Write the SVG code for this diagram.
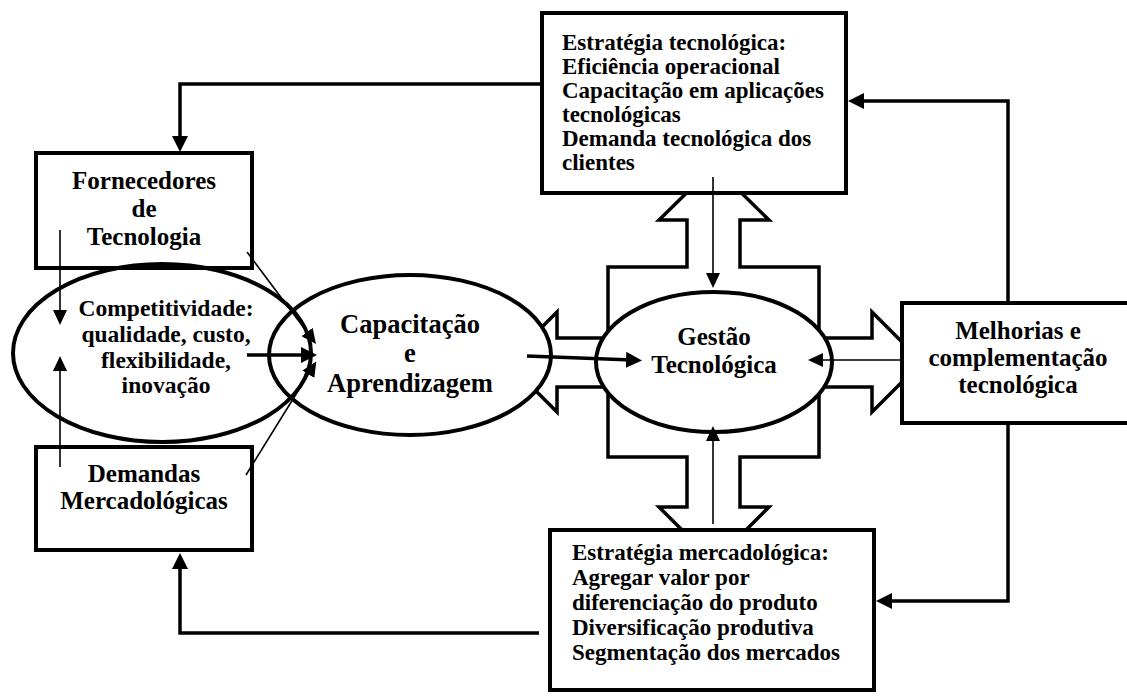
<svg xmlns="http://www.w3.org/2000/svg" width="1127" height="697" viewBox="0 0 1127 697">
  <style>
    .box { fill: #fff; stroke: #000; stroke-width: 4; }
    .oval { stroke: #000; stroke-width: 4; }
    .cross { fill: #fff; stroke: #000; stroke-width: 3.5; stroke-linejoin: miter; }
    .t { font-family: "Liberation Serif", "Times New Roman", serif; font-weight: bold; fill: #000; }
    .c { text-anchor: middle; }
    .big { font-size: 25px; }
    .mid { font-size: 23.5px; }
    .lst { font-size: 23px; }
    .cap { font-size: 26.5px; }
    .thick { fill: none; stroke: #000; stroke-width: 3.5; marker-end: url(#headL); }
    .thin { fill: none; stroke: #000; stroke-width: 1.6; marker-end: url(#headS); }
  </style>
  <defs>
    <marker id="headL" markerUnits="userSpaceOnUse" markerWidth="17" markerHeight="16" refX="6" refY="8" orient="auto">
      <path d="M0,0 L16,8 L0,16 z" fill="#000"/>
    </marker>
    <marker id="headS" markerUnits="userSpaceOnUse" markerWidth="16" markerHeight="14" refX="5" refY="7" orient="auto">
      <path d="M0,0 L15,7 L0,14 z" fill="#000"/>
    </marker>
  </defs>

  <rect x="0" y="0" width="1127" height="697" fill="#fff"/>

  <!-- four-way block arrow behind the central oval -->
  <g id="quad-arrow">
    <polygon class="cross" points="714,166 769,220 740,220 740,267 819,267 819,338 872,338 872,312 922,362 872,412 872,387 819,387 819,457 740,457 740,507 769,507 714,562 659,507 687,507 687,457 608,457 608,387 557,387 557,412 507,362 557,312 557,338 608,338 608,267 687,267 687,220 659,220"/>
  </g>

  <g id="fornecedores">
    <rect class="box" x="36" y="153" width="216" height="115"/>
    <text class="t c big" x="144" y="189">Fornecedores</text>
    <text class="t c big" x="144" y="217">de</text>
    <text class="t c big" x="144" y="245">Tecnologia</text>
  </g>

  <g id="demandas">
    <rect class="box" x="36" y="447" width="216" height="103"/>
    <text class="t c big" x="144" y="482">Demandas</text>
    <text class="t c big" x="144" y="509">Mercadológicas</text>
  </g>

  <g id="capacitacao">
    <ellipse class="oval" cx="410" cy="355" rx="141" ry="80" fill="#fff"/>
    <text class="t c cap" x="410" y="333">Capacitação</text>
    <text class="t c cap" x="410" y="362">e</text>
    <text class="t c cap" x="410" y="392">Aprendizagem</text>
  </g>

  <g id="competitividade">
    <ellipse class="oval" cx="162" cy="353" rx="149" ry="89" fill="none"/>
    <text class="t c mid" x="166" y="316">Competitividade:</text>
    <text class="t c mid" x="166" y="342">qualidade, custo,</text>
    <text class="t c mid" x="166" y="368">flexibilidade,</text>
    <text class="t c mid" x="166" y="393">inovação</text>
  </g>

  <g id="gestao">
    <ellipse class="oval" cx="714" cy="362" rx="118" ry="70" fill="#fff"/>
    <text class="t c big" x="714" y="345">Gestão</text>
    <text class="t c big" x="714" y="373">Tecnológica</text>
  </g>

  <g id="estrategia-tecnologica">
    <rect class="box" x="542" y="13" width="304" height="180"/>
    <text class="t lst" x="562" y="50">Estratégia tecnológica:</text>
    <text class="t lst" x="562" y="74">Eficiência operacional</text>
    <text class="t lst" x="562" y="98">Capacitação em aplicações</text>
    <text class="t lst" x="562" y="122">tecnológicas</text>
    <text class="t lst" x="562" y="146">Demanda tecnológica dos</text>
    <text class="t lst" x="562" y="170">clientes</text>
  </g>

  <g id="estrategia-mercadologica">
    <rect class="box" x="550" y="530" width="324" height="160"/>
    <text class="t lst" x="572" y="560">Estratégia mercadológica:</text>
    <text class="t lst" x="572" y="585">Agregar valor por</text>
    <text class="t lst" x="572" y="610">diferenciação do produto</text>
    <text class="t lst" x="572" y="635">Diversificação produtiva</text>
    <text class="t lst" x="572" y="660">Segmentação dos mercados</text>
  </g>

  <g id="melhorias">
    <rect class="box" x="902" y="303" width="240" height="120"/>
    <text class="t c big" x="1018" y="339">Melhorias e</text>
    <text class="t c big" x="1018" y="366">complementação</text>
    <text class="t c big" x="1018" y="393">tecnológica</text>
  </g>

  <g id="connectors">
    <polyline class="thick" points="542,84 180,84 180,142"/>
    <polyline class="thick" points="1008,303 1008,101 858,101"/>
    <polyline class="thick" points="1008,423 1008,601 886,601"/>
    <polyline class="thick" points="539,633 180,633 180,563"/>
    <line class="thin" x1="60" y1="230" x2="60" y2="315"/>
    <line class="thin" x1="60" y1="467" x2="60" y2="366"/>
    <line class="thin" x1="247" y1="252" x2="310" y2="336"/>
    <line class="thin" x1="246" y1="475" x2="311" y2="370"/>
    <line class="thick" x1="247" y1="355" x2="307" y2="355"/>
    <line class="thick" x1="527" y1="356" x2="632" y2="360"/>
    <line class="thin" x1="902" y1="360" x2="818" y2="360"/>
    <line class="thin" x1="713" y1="177" x2="713" y2="278"/>
    <line class="thin" x1="713" y1="524" x2="713" y2="436"/>
  </g>
</svg>
